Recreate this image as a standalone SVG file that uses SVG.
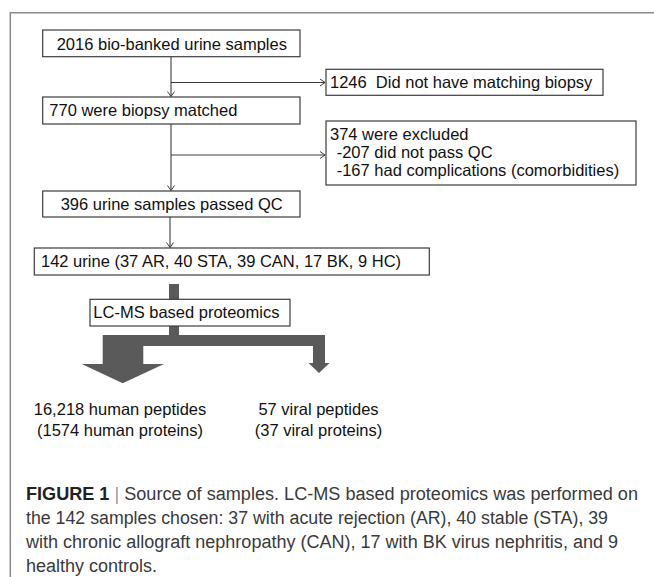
<svg xmlns="http://www.w3.org/2000/svg" width="654" height="577" viewBox="0 0 654 577">
<style>
.box{fill:#fff;stroke:#3c3c3c;stroke-width:1.2}
.t{font-family:"Liberation Sans",Arial,sans-serif;font-size:16.5px;fill:#111}
.ln{stroke:#3c3c3c;stroke-width:1.1;fill:none}
.thick{fill:#5a5a5a}
.cap{font-family:"Liberation Sans",Arial,sans-serif;font-size:18px;fill:#3a3a3a}
.frame{stroke:#8a8a8a;stroke-width:1.5;fill:none}
</style>
<defs>
<marker id="arr" markerWidth="10" markerHeight="10" refX="8" refY="5" orient="auto" markerUnits="userSpaceOnUse">
<polyline points="3,1.5 8,5 3,8.5" fill="none" stroke="#3c3c3c" stroke-width="1"/>
</marker>
</defs>
<rect width="654" height="577" fill="#fff"/>
<path class="frame" d="M654,12.7 H10.3 V577"/>

<g id="connectors">
<path class="ln" d="M171,57 V96.5" marker-end="url(#arr)"/>
<path class="ln" d="M171,82.5 H325" marker-end="url(#arr)"/>
<path class="ln" d="M171,124 V190.5" marker-end="url(#arr)"/>
<path class="ln" d="M171,155 H325" marker-end="url(#arr)"/>
<path class="ln" d="M170,217 V247.5" marker-end="url(#arr)"/>
<path class="thick" d="M169,284 H179 V335 H325 V363 H329.5 L319,373 L308.5,363 H313 V346 H143.3 V364 H164 L122.7,383.3 L81.7,364 H102.7 V335 H169 Z"/>
</g>

<g id="n1"><rect class="box" x="42.7" y="30" width="257.3" height="26.7"/><text class="t" x="56.7" y="49.5">2016 bio-banked urine samples</text></g>
<g id="n2"><rect class="box" x="326" y="69.3" width="277" height="26"/><text class="t" x="330" y="87.5" xml:space="preserve">1246  Did not have matching biopsy</text></g>
<g id="n3"><rect class="box" x="42.7" y="97" width="257.3" height="27"/><text class="t" x="49.3" y="116">770 were biopsy matched</text></g>
<g id="n4"><rect class="box" x="326" y="121" width="310" height="64"/>
<text class="t" x="330" y="139.5">374 were excluded</text>
<text class="t" x="336.7" y="157.5">-207 did not pass QC</text>
<text class="t" x="336.7" y="175.5">-167 had complications (comorbidities)</text></g>
<g id="n5"><rect class="box" x="42.7" y="191" width="257.3" height="26"/><text class="t" x="60.7" y="209.5">396 urine samples passed QC</text></g>
<g id="n6"><rect class="box" x="34.3" y="248" width="395" height="27"/><text class="t" x="41" y="267">142 urine (37 AR, 40 STA, 39 CAN, 17 BK, 9 HC)</text></g>
<g id="n7"><rect class="box" x="90" y="299.3" width="200" height="26.7"/><text class="t" x="93.3" y="317.5">LC-MS based proteomics</text></g>
<g id="n8"><text class="t" x="120" y="415" text-anchor="middle">16,218 human peptides</text><text class="t" x="120" y="436" text-anchor="middle">(1574 human proteins)</text></g>
<g id="n9"><text class="t" x="318.5" y="415" text-anchor="middle">57 viral peptides</text><text class="t" x="318.5" y="436" text-anchor="middle">(37 viral proteins)</text></g>

<g id="caption">
<text class="cap" x="26" y="500" textLength="612" lengthAdjust="spacingAndGlyphs"><tspan font-weight="bold" fill="#222">FIGURE 1</tspan> <tspan fill="#999">|</tspan> Source of samples. LC-MS based proteomics was performed on</text>
<text class="cap" x="26" y="524" textLength="582" lengthAdjust="spacingAndGlyphs">the 142 samples chosen: 37 with acute rejection (AR), 40 stable (STA), 39</text>
<text class="cap" x="26" y="548" textLength="592" lengthAdjust="spacingAndGlyphs">with chronic allograft nephropathy (CAN), 17 with BK virus nephritis, and 9</text>
<text class="cap" x="26" y="572">healthy controls.</text>
</g>
</svg>
